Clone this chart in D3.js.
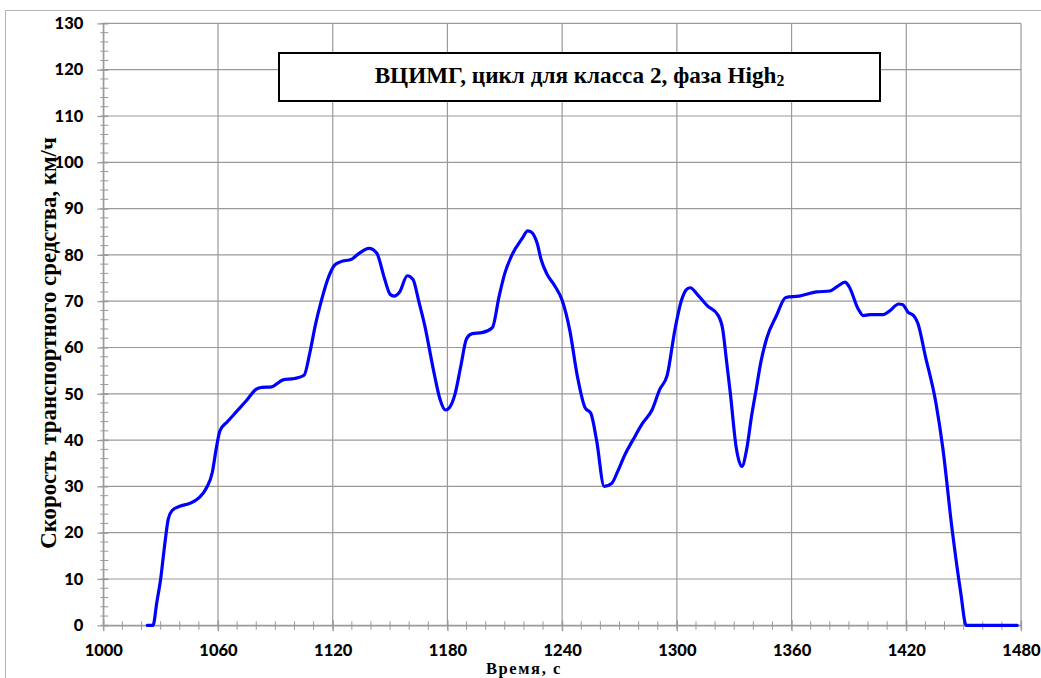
<!DOCTYPE html>
<html>
<head>
<meta charset="utf-8">
<script src="https://cdn.jsdelivr.net/npm/d3@7"></script>
<style>
  html, body { margin: 0; padding: 0; background: #fff; }
  svg { display: block; }
</style>
</head>
<body>
<svg id="chart" width="1041" height="678"></svg>
<script>
// ---- Data ----
const times = [1023,1026,1028,1030,1032,1034,1036,1040,1045,1050,1054,1057,1059,1061,1065,1070,1075,1080,1083,1088,1094,1100,1105,1108,1111,1114,1118,1121,1124,1130,1134,1139,1143,1147,1150,1152,1155,1159,1162,1165,1168,1173,1176,1179,1181,1184,1187,1190,1193,1198,1203.5,1207,1210,1214,1219,1222,1224,1227,1229,1232,1236,1240,1244,1248,1252,1255,1258,1262,1266,1269,1273,1277,1282,1287,1291,1295,1299,1302.5,1305,1307,1311,1316,1321.5,1324,1326,1328,1331,1334,1336.5,1339,1341.5,1344,1347,1352,1357,1364,1373,1380,1384,1388,1390,1395,1397.5,1401,1408,1411,1416,1418,1421,1424,1426,1430,1435.5,1439,1444,1448.5,1451.3,1478];
const speeds = [0,0,5,10,17,23,24.8,25.7,26.3,27.5,29.7,33,38,42,44,46.3,48.6,51,51.4,51.5,53,53.3,54,58.8,65,70,75.4,77.8,78.5,79.1,80.4,81.4,80.4,75,71.5,71.1,72,75.5,74.7,70,65,54.5,49,46.5,47,50,56,61.9,63,63.2,64.3,71,76,80.2,83.5,85.2,84.9,82.4,79,75.9,73.4,70.2,63.7,53.7,47,45.8,40,30,30.7,33.2,37,40,43.6,46.5,50.9,54.1,63.9,70.3,72.5,72.9,71.3,69,67,63.9,57,50,38.5,34.3,38,45,51,57,62,66.8,70.8,71.1,72,72.2,73.2,74.1,73.2,68.2,66.9,67.1,67.1,67.8,69.4,69.3,67.6,66.8,65.3,58.1,48,38.6,20.6,7,0,0];
const xTickLabels = [1000,1060,1120,1180,1240,1300,1360,1420,1480];
const yTickLabels = [0,10,20,30,40,50,60,70,80,90,100,110,120,130];
const xMinorTicks = d3.range(1000, 1481, 10);
const yMinorTicks = d3.range(0, 131, 2);
const titleMain = "ВЦИМГ, цикл для класса 2, фаза High";
const titleSub = "2";
const yTitle = "Скорость транспортного средства, км/ч";
const xTitle = "Время, с";

// ---- Layout ----
const svg = d3.select("#chart");
const x = d3.scaleLinear().domain([1000, 1480]).range([103.3, 1021]);
const y = d3.scaleLinear().domain([0, 130]).range([625.3, 23.4]);
const gridColor = "#9a9a9a";
const tickFont = "Lato, 'Open Sans', sans-serif";
const serif = "'Liberation Serif', 'DejaVu Serif', serif";

// outer chart border
svg.append("rect").attr("x", 5.5).attr("y", 10.5).attr("width", 1040).attr("height", 680)
  .attr("fill", "#fff").attr("stroke", "#b4b4b4").attr("stroke-width", 1);

// grid
const grid = svg.append("g");
grid.selectAll("line.h").data(yTickLabels).join("line")
  .attr("x1", x(1000)).attr("x2", x(1480))
  .attr("y1", d => y(d)).attr("y2", d => y(d))
  .attr("stroke", gridColor).attr("stroke-width", 1.2);
grid.selectAll("line.v").data(xTickLabels).join("line")
  .attr("y1", y(0)).attr("y2", y(130))
  .attr("x1", d => x(d)).attr("x2", d => x(d))
  .attr("stroke", gridColor).attr("stroke-width", 1.2);

// minor ticks
const minor = svg.append("g").attr("stroke", gridColor).attr("stroke-width", 1);
minor.selectAll("line.ym").data(yMinorTicks).join("line")
  .attr("x1", x(1000) - 3).attr("x2", x(1000) + 5)
  .attr("y1", d => y(d)).attr("y2", d => y(d));
minor.selectAll("line.xm").data(xMinorTicks).join("line")
  .attr("y1", y(0) - 4).attr("y2", y(0) + 4.5)
  .attr("x1", d => x(d)).attr("x2", d => x(d));

// axes
const yAxis = svg.append("g").attr("transform", `translate(${x(1000)},0)`)
  .call(d3.axisLeft(y).tickValues(yTickLabels).tickSize(6).tickPadding(14).tickSizeOuter(0));
const xAxis = svg.append("g").attr("transform", `translate(0,${y(0)})`)
  .call(d3.axisBottom(x).tickValues(xTickLabels).tickSize(6).tickPadding(12.5).tickSizeOuter(0).tickFormat(d3.format("d")));
[yAxis, xAxis].forEach(g => {
  g.select(".domain").attr("stroke", gridColor).attr("stroke-width", 1.2);
  g.selectAll(".tick line").attr("stroke", gridColor).attr("stroke-width", 1.2);
  g.selectAll(".tick text").attr("fill", "#000")
    .style("font-family", tickFont).style("font-weight", "900").style("font-size", "16.5px");
});
yAxis.selectAll(".tick line").attr("x2", -6).attr("x1", 5);
xAxis.selectAll(".tick line").attr("y1", -5).attr("y2", 6);

// line
const pts = times.map((t, i) => [t, speeds[i]]);
svg.append("path").datum(pts)
  .attr("fill", "none").attr("stroke", "#0000ff").attr("stroke-width", 3.2)
  .attr("stroke-linejoin", "round").attr("stroke-linecap", "round")
  .attr("d", d3.line().x(d => x(d[0])).y(d => y(d[1])).curve(d3.curveMonotoneX));

// title box
svg.append("rect").attr("x", 279).attr("y", 53).attr("width", 601).attr("height", 48)
  .attr("fill", "#fff").attr("stroke", "#000").attr("stroke-width", 2);
const title = svg.append("text").attr("x", 579.5).attr("y", 82.5).attr("text-anchor", "middle")
  .style("font-family", serif).style("font-weight", "bold").style("font-size", "16px").attr("fill", "#000");
title.append("tspan").text(titleMain);
title.append("tspan").text(titleSub).style("font-size", "0.68em").attr("dy", "0.22em");

function fitWidth(sel, target, base) {
  const len = sel.node().getComputedTextLength();
  if (len > 0) sel.style("font-size", (base * target / len).toFixed(2) + "px");
}
fitWidth(title, 410, 16);

// axis titles
const yt = svg.append("text")
  .attr("transform", "translate(56,343) rotate(-90)")
  .attr("text-anchor", "middle")
  .style("font-family", serif).style("font-weight", "bold").style("font-size", "20px")
  .attr("fill", "#000").text(yTitle);
fitWidth(yt, 412, 20);

svg.append("text").attr("x", 524).attr("y", 673.5)
  .attr("text-anchor", "middle")
  .style("font-family", serif).style("font-weight", "bold").style("font-size", "16.5px")
  .attr("letter-spacing", "1.6px")
  .attr("fill", "#000").text(xTitle);
</script>
</body>
</html>
